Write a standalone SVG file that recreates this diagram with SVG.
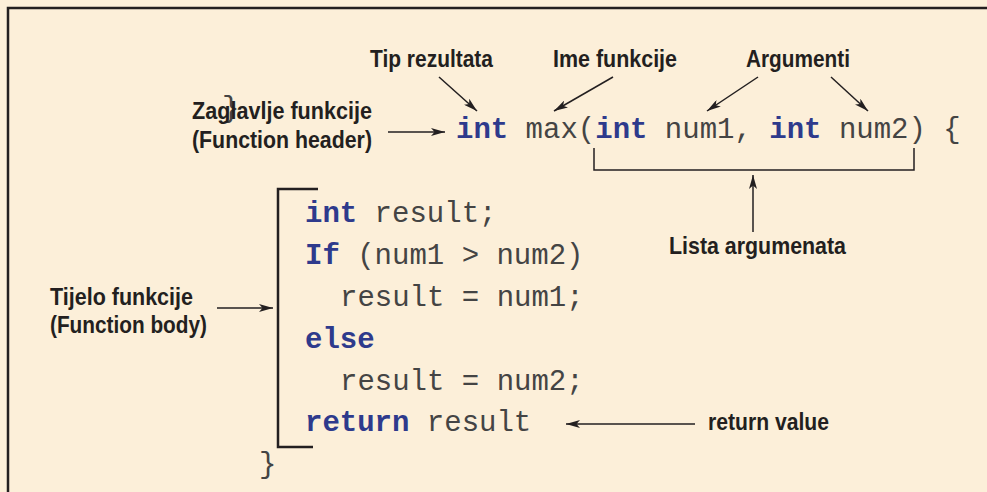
<svg xmlns="http://www.w3.org/2000/svg" width="987" height="492" viewBox="0 0 987 492">
<defs>
<style>
.lbl{font-family:"Liberation Sans Narrow","Liberation Sans",Arial,sans-serif;font-weight:bold;font-size:24px;fill:#231f20}
.code{font-family:"Liberation Mono","Courier New",monospace;font-size:29px;fill:#444444}
.kw{font-weight:bold;fill:#2e3a8c}
.ln{stroke:#231f20;stroke-width:1.5;fill:none}
.br{stroke:#231f20;stroke-width:2.5;fill:none}
</style>
<marker id="ah" viewBox="0 0 14 8" refX="14" refY="4" markerWidth="14" markerHeight="8" orient="auto" markerUnits="userSpaceOnUse"><path d="M0,0 L14,4 L0,8 L3.5,4 z" fill="#231f20"/></marker>
</defs>
<rect x="0" y="0" width="987" height="492" fill="#fcefd9"/>
<path d="M8,492 V8 H987" stroke="#231f20" stroke-width="2.5" fill="none"/>

<g id="stray-brace"><text class="code" x="222" y="117" font-size="26">}</text></g>

<g id="header-code"><text class="code" x="456" y="138" xml:space="preserve"><tspan class="kw">int</tspan> max(<tspan class="kw">int</tspan> num1, <tspan class="kw">int</tspan> num2) {</text></g>

<g id="body-code">
<text class="code" x="305" y="222"><tspan class="kw">int</tspan> result;</text>
<text class="code" x="305" y="264" xml:space="preserve"><tspan class="kw">If</tspan> (num1 &gt; num2)</text>
<text class="code" x="340" y="306">result = num1;</text>
<text class="code kw" x="305" y="348">else</text>
<text class="code" x="340" y="390">result = num2;</text>
<text class="code" x="305" y="431" xml:space="preserve"><tspan class="kw">return</tspan> result</text>
<text class="code" x="259" y="473" font-size="26">}</text>
</g>

<g id="tip-rezultata"><text class="lbl" x="370" y="67" textLength="123" lengthAdjust="spacingAndGlyphs">Tip rezultata</text></g>
<g id="ime-funkcije"><text class="lbl" x="553" y="67" textLength="124" lengthAdjust="spacingAndGlyphs">Ime funkcije</text></g>
<g id="argumenti"><text class="lbl" x="746" y="67" textLength="104" lengthAdjust="spacingAndGlyphs">Argumenti</text></g>
<g id="zaglavlje">
<text class="lbl" x="192" y="119" textLength="180" lengthAdjust="spacingAndGlyphs">Zaglavlje funkcije</text>
<text class="lbl" x="192" y="148" textLength="180" lengthAdjust="spacingAndGlyphs">(Function header)</text>
</g>
<g id="lista-argumenata"><text class="lbl" x="669" y="254" textLength="177" lengthAdjust="spacingAndGlyphs">Lista argumenata</text></g>
<g id="tijelo">
<text class="lbl" x="50" y="305" textLength="143" lengthAdjust="spacingAndGlyphs">Tijelo funkcije</text>
<text class="lbl" x="50" y="333" textLength="157" lengthAdjust="spacingAndGlyphs">(Function body)</text>
</g>
<g id="return-value"><text class="lbl" x="708" y="430" textLength="121" lengthAdjust="spacingAndGlyphs">return value</text></g>

<g id="connectors">
<path class="br" d="M318,189 H278 V447 H313"/>
<path class="ln" stroke-width="2" d="M594,148 V170 H914 V148"/>
<line class="ln" x1="439" y1="77" x2="477" y2="111" marker-end="url(#ah)"/>
<line class="ln" x1="613" y1="77" x2="554" y2="111" marker-end="url(#ah)"/>
<line class="ln" x1="758" y1="77" x2="707" y2="111" marker-end="url(#ah)"/>
<line class="ln" x1="831" y1="77" x2="868" y2="111" marker-end="url(#ah)"/>
<line class="ln" x1="388" y1="132" x2="445" y2="132" marker-end="url(#ah)"/>
<line class="ln" x1="753" y1="232" x2="753" y2="175" marker-end="url(#ah)"/>
<line class="ln" x1="217" y1="308" x2="273" y2="308" marker-end="url(#ah)"/>
<line class="ln" x1="695" y1="424" x2="566" y2="424" marker-end="url(#ah)"/>
</g>
</svg>
